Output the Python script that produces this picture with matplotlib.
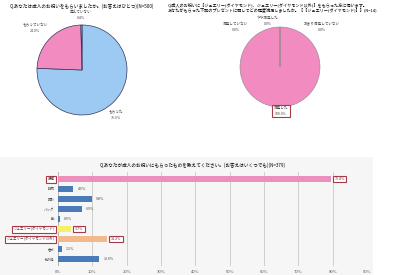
import matplotlib
matplotlib.use("Agg")
import matplotlib.pyplot as plt
import matplotlib.patches as mpatches

plt.rcParams['font.family'] = ['Noto Sans CJK JP', 'DejaVu Sans']

W, H = 400, 275

# 円グラフ1: 成人のお祝いをもらったか
p1_labels = ['もらった', 'もらっていない', '覚えていない']
p1_values = [75.6, 24.0, 0.4]
p1_colors = ['#9ccaf2', '#f28cc0', '#f5f0a0']
p1_title = 'Q.あなたは成人のお祝いをもらいましたか。(お答えはひとつ)(N=500)'

# 円グラフ2: 満足度
p2_labels = ['満足した', 'やや満足した', 'あまり満足していない', '満足していない']
p2_values = [100.0, 0.0, 0.0, 0.0]
p2_title = ('Q.成人のお祝いに【ジュエリー(ダイヤモンド)、ジュエリー(ダイヤモンド以外)】をもらった方に伺います。\n'
            'あなたがもらった下記のプレゼントに関してどの程度満足しましたか。【【ジュエリー(ダイヤモンド)】】(N=14)')

# 棒グラフ: もらったもの
b_labels = ['振袖', '財布', '時計', 'バッグ', '靴', 'ジュエリー(ダイヤモンド)',
            'ジュエリー(ダイヤモンド以外)', '香水', 'その他']
b_values = [79.4, 4.5, 9.8, 6.9, 0.5, 3.7, 14.2, 1.1, 12.0]
b_colors = ['#ec8fbd', '#4a7ab8', '#4a7ab8', '#4a7ab8', '#4a7ab8', '#f4f06a',
            '#f2b98c', '#4a7ab8', '#4a7ab8']
b_marked = [0, 5, 6]
b_ticks = [0, 10, 20, 30, 40, 50, 60, 70, 80, 90]
b_title = 'Q.あなたが成人のお祝いにもらったものを教えてください。(お答えはいくつでも)(N=379)'

box_red = '#a83a4a'


def px_axes(fig, x0, y0, x1, y1):
    # ピクセル座標(左上原点)からaxesを作る
    return fig.add_axes([x0 / W, 1 - y1 / H, (x1 - x0) / W, (y1 - y0) / H])


fig = plt.figure(figsize=(W / 100, H / 100), dpi=100)
fig.patch.set_facecolor('white')

# 下のパネル背景
bg = mpatches.Rectangle((0, 1 - 275 / H), 373 / W, 118 / H, transform=fig.transFigure,
                        facecolor='#f6f6f6', edgecolor='none', zorder=-5)
fig.patches.append(bg)

# ---- 円グラフ1 ----
ax1 = px_axes(fig, 37, 24, 127, 116)
ax1.pie(p1_values, colors=p1_colors, startangle=90, counterclock=False,
        wedgeprops=dict(edgecolor='#33335a', linewidth=0.5))
ax1.set_xlim(-1, 1)
ax1.set_ylim(-1, 1)
fig.text(10 / W, 1 - 6 / H, p1_title, fontsize=3.3, va='center', ha='left')
p1_pos = [(116, 115), (35, 28), (81, 15)]
for lab, v, (x, y) in zip(p1_labels, p1_values, p1_pos):
    fig.text(x / W, 1 - y / H, f'{lab}\n{v:.1f}%', fontsize=2.6, ha='center', va='center',
             linespacing=1.6, color='#444444')

# ---- 円グラフ2 ----
ax2 = px_axes(fig, 240, 27, 320, 107)
ax2.pie(p2_values, colors=['#f28cc0'] * 4, startangle=90, counterclock=False,
        wedgeprops=dict(edgecolor='#888888', linewidth=0.4))
ax2.set_xlim(-1, 1)
ax2.set_ylim(-1, 1)
fig.text(168 / W, 1 - 8 / H, p2_title, fontsize=3.0, va='center', ha='left', linespacing=1.3)
p2_pos = [(281, 111), (268, 21), (322, 27), (236, 27)]
for i, (lab, v, (x, y)) in enumerate(zip(p2_labels, p2_values, p2_pos)):
    kw = {}
    if i == 0:
        kw['bbox'] = dict(boxstyle='square,pad=0.4', facecolor='white', edgecolor=box_red, linewidth=0.8)
    fig.text(x / W, 1 - y / H, f'{lab}\n{v:.1f}%', fontsize=2.6, ha='center', va='center',
             linespacing=1.6, color='#444444', **kw)

# ---- 棒グラフ ----
ax3 = px_axes(fig, 58, 172, 367, 266)
ax3.set_facecolor('none')
ypos = list(range(len(b_values)))
ax3.barh(ypos, b_values, height=0.6, color=b_colors, zorder=3)
ax3.set_xlim(0, 90)
ax3.set_ylim(len(b_values) - 0.3, -0.7)
ax3.set_xticks(b_ticks)
ax3.set_xticklabels([f'{t}%' for t in b_ticks], fontsize=3, color='#555555')
ax3.set_yticks(ypos)
ax3.set_yticklabels(b_labels, fontsize=2.5, color='#444444')
ax3.tick_params(axis='y', length=0, pad=2.5)
ax3.tick_params(axis='x', length=0, pad=3)
ax3.grid(axis='x', color='#c8c8c8', linewidth=0.6, zorder=0)
for s in ax3.spines.values():
    s.set_visible(False)
ax3.axvline(0, color='#aaaaaa', linewidth=0.5, zorder=2)
for i, v in enumerate(b_values):
    kw = {}
    if i in b_marked:
        kw['bbox'] = dict(boxstyle='square,pad=0.4', facecolor='white', edgecolor=box_red, linewidth=0.8)
    ax3.text(v + 1.2, i, f'{v:.1f}%', fontsize=2.6, va='center', ha='left', color='#444444', zorder=4, **kw)
for i in b_marked:
    t = ax3.get_yticklabels()[i]
    t.set_bbox(dict(boxstyle='square,pad=0.35', facecolor='white', edgecolor=box_red, linewidth=0.8))
fig.text(100 / W, 1 - 165 / H, b_title, fontsize=3.3, va='center', ha='left')

fig.savefig('out.png', dpi=100)
